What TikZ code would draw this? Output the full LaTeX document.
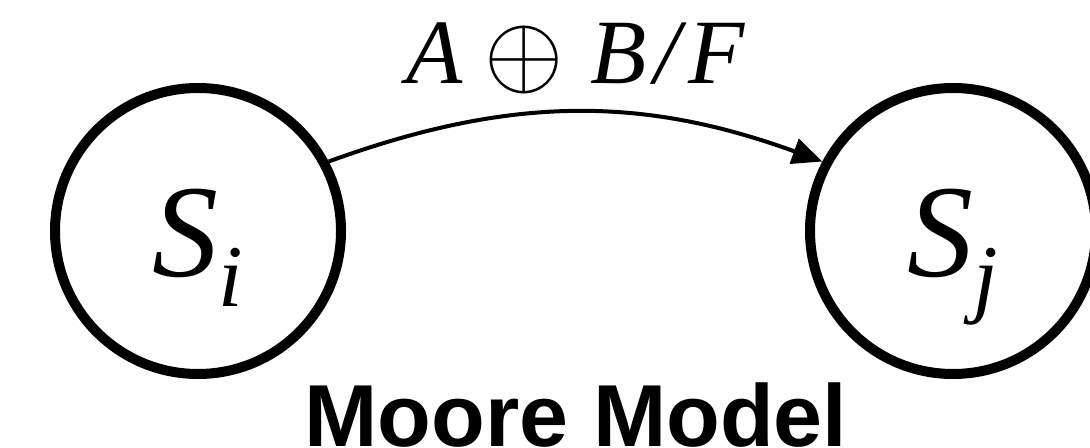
\documentclass[tikz,border=0pt]{standalone}
\usepackage{fontspec}
\setmainfont{Liberation Serif}
\newfontfamily\headfont{Liberation Sans}
\usetikzlibrary{arrows.meta}

\newcommand{\stname}[1]{S\raisebox{-15pt}{\fontsize{44}{48}\selectfont #1}}

\begin{document}
\begin{tikzpicture}[x=0.5pt, y=-0.5pt, >={Triangle[length=15pt,width=13pt]},
    state/.style={circle, draw, line width=5pt, minimum size=143pt, inner sep=0pt,
      font=\fontsize{66}{70}\selectfont\itshape, text height=46pt, text depth=0pt}]
  \clip (0,0) rectangle (1090,448);
  % states
  \node[state] (si) at (198,231) {\stname{i}};
  \node[state] (sj) at (953,231) {\stname{j}};
  % transition
  \draw[->, line width=2pt] (si.28) to[out=20, in=160]
    node[midway, anchor=base, yshift=14.5pt, font=\fontsize{46}{50}\selectfont\itshape] (cond)
    {A\hspace{11pt}{\normalsize\raisebox{-1.2pt}{\scalebox{5.1}{$\oplus$}}}\hspace{13pt}B\hspace{4pt}/\hspace{4pt}F} (sj.152);
  % caption
  \node[anchor=base, font=\headfont\bfseries\fontsize{44}{48}\selectfont] (title) at (576,446) {Moore Model};
\end{tikzpicture}
\end{document}
